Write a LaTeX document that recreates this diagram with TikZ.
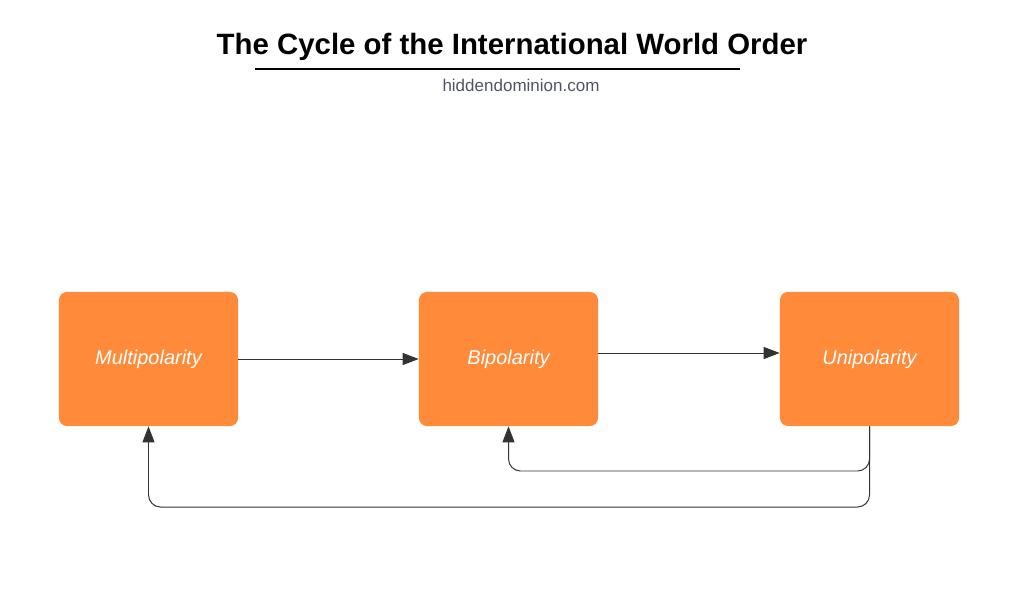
\documentclass[tikz,border=0pt]{standalone}
\usepackage{fontspec}
\setmainfont{Liberation Sans}
\usetikzlibrary{arrows.meta,calc}
\definecolor{CycleOrange}{HTML}{FF8B3A}
\definecolor{CycleInk}{HTML}{000000}
\definecolor{CycleMuted}{HTML}{4D5563}
\definecolor{CycleLine}{HTML}{333333}
\begin{document}
\begin{tikzpicture}[
  x=0.025cm, y=-0.025cm,
  stage/.style={fill=CycleOrange, rounded corners=0.2cm, minimum width=4.475cm, minimum height=3.35cm, inner sep=0pt, text=white, font=\fontsize{14.2pt}{16pt}\selectfont\itshape},
  fwd/.style={-{Triangle[length=0.4cm, width=0.3cm]}, draw=CycleLine, line width=0.7pt},
  back/.style={fwd, rounded corners=0.3cm}
]
\useasboundingbox (0,0) rectangle (1024,598);
\node[font=\fontsize{20.9pt}{24pt}\selectfont\bfseries, text=CycleInk] (title) at (512,47) {The Cycle of the International World Order};
\draw[CycleInk, line width=1.5pt] (255,69) coordinate (ulA) -- (740,69) coordinate (ulB);
\node[font=\fontsize{12.1pt}{14pt}\selectfont, text=CycleMuted] (site) at (521,85) {hiddendominion.com};
\node[stage] (multi) at (148.5,359) {Multipolarity};
\node[stage] (bi) at (508.5,359) {Bipolarity};
\node[stage] (uni) at (869.5,359) {Unipolarity};
\draw[fwd] (multi.east) -- (bi.west);
\draw[fwd] ($(bi.east)+(0,-6)$) -- ($(uni.west)+(0,-6)$);
\draw[back] (uni.south) -- (uni.south |- 0,471) -| (bi.south);
\draw[back] (uni.south) -- (uni.south |- 0,507) -| (multi.south);
\end{tikzpicture}
\end{document}
